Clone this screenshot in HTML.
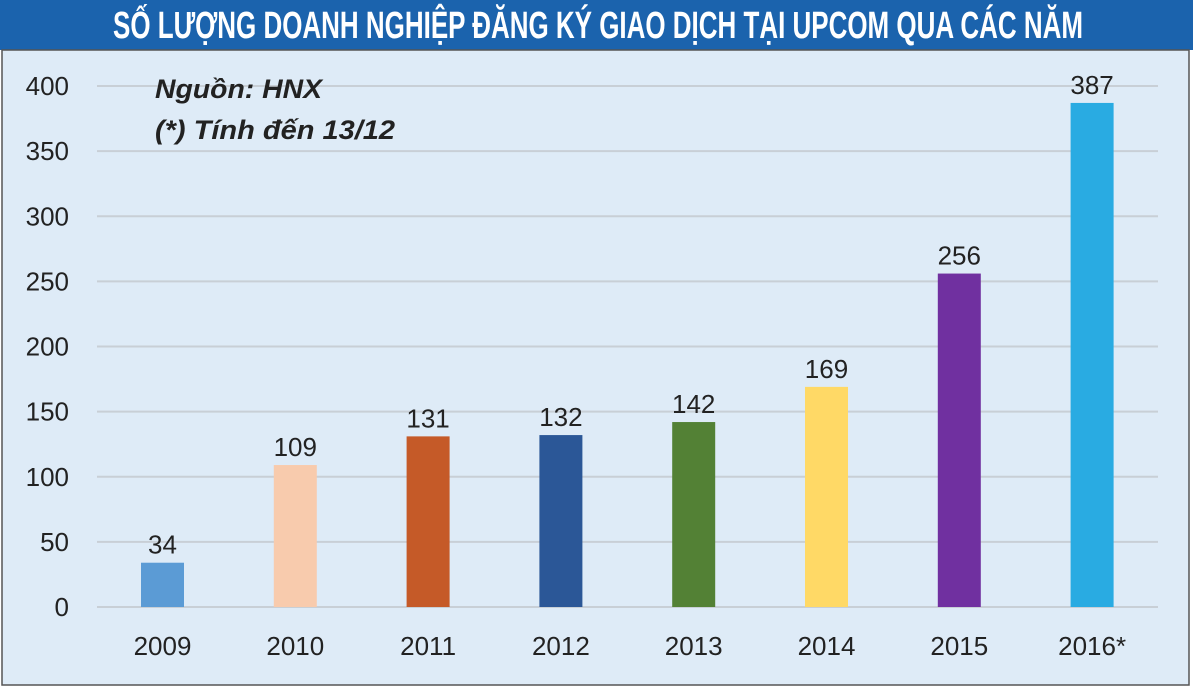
<!DOCTYPE html>
<html><head><meta charset="utf-8"><style>
html,body{margin:0;padding:0;background:#fff;}
svg{display:block;font-family:"Liberation Sans",sans-serif;}
</style></head><body>
<svg width="1200" height="691" viewBox="0 0 1200 691">
<rect x="0" y="0" width="1193" height="50" fill="#1b63ad"/>
<text x="598" y="38" text-anchor="middle" fill="#fff" font-family="'Liberation Sans Narrow','Liberation Sans',sans-serif" font-weight="bold" font-size="38" textLength="970" lengthAdjust="spacingAndGlyphs">SỐ LƯỢNG DOANH NGHIỆP ĐĂNG KÝ GIAO DỊCH TẠI UPCOM QUA CÁC NĂM</text>
<rect x="2" y="50" width="1187" height="635" fill="#deebf7" stroke="#555" stroke-width="1.5"/>
<g id="grid"></g>
<g id="bars"></g>
<text x="155" y="98" font-style="italic" font-weight="bold" font-size="27" fill="#222" textLength="167" lengthAdjust="spacingAndGlyphs">Nguồn: HNX</text>
<text x="155" y="139" font-style="italic" font-weight="bold" font-size="27" fill="#222" textLength="240" lengthAdjust="spacingAndGlyphs">(*) Tính đến 13/12</text>
</svg>
<script>
const categories=["2009","2010","2011","2012","2013","2014","2015","2016*"];
const values=[34,109,131,132,142,169,256,387];
const colors=["#5b9bd5","#f8cbad","#c55a28","#2b5797","#538135","#ffd966","#7030a0","#29abe2"];
const yTicks=[0,50,100,150,200,250,300,350,400];
const NS="http://www.w3.org/2000/svg";
const y=v=>607-v*(607-86)/400;
const x=i=>162.5+i*132.8;
function mk(tag,attrs,parent,txt){const e=document.createElementNS(NS,tag);for(const k in attrs)e.setAttribute(k,attrs[k]);if(txt!==undefined)e.textContent=txt;parent.appendChild(e);return e;}
const grid=document.getElementById('grid'),bars=document.getElementById('bars');
yTicks.forEach(t=>{
 const l=mk('line',{x1:97,x2:1158,y1:y(t),y2:y(t),stroke:'#c8cfd6','stroke-width':2},grid);
 
 
 const tx=mk('text',{x:69,y:y(t)+9,'text-anchor':'end','font-size':26,fill:'#222'},grid,t);
 
 
});
categories.forEach((c,i)=>{
 const r=mk('rect',{x:x(i)-21.5,y:y(values[i]),width:43,height:y(0)-y(values[i]),fill:colors[i]},bars);
 
 
 const v=mk('text',{x:x(i),y:y(values[i])-9,'text-anchor':'middle','font-size':26,fill:'#222'},bars,values[i]);
 
 
 const l=mk('text',{x:x(i),y:655,'text-anchor':'middle','font-size':26,fill:'#222'},bars,c);
 
 
});
</script>
</body></html>
